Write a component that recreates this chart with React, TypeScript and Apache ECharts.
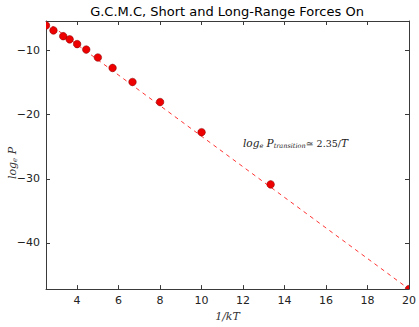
import React, { useEffect, useRef } from "react";
import * as echarts from "echarts";

const invT = [2.5, 2.86, 3.33, 3.64, 4.0, 4.44, 5.0, 5.71, 6.67, 8.0, 10.0, 13.33, 20.0];
const logP = [-6.1, -6.87, -7.77, -8.26, -9.0, -9.85, -11.09, -12.72, -14.91, -18.04, -22.74, -30.88, -47.2];
const fitX = [2.5, 20];
const fitY = [-5.5, -47.2];
const xTicks = [4, 6, 8, 10, 12, 14, 16, 18, 20];
const yTicks = [-40, -30, -20, -10];

export default function App() {
  const ref = useRef<HTMLDivElement>(null);
  useEffect(() => {
    const chart = echarts.init(ref.current!, null, { renderer: "svg" });
    const axisLine = { show: true, lineStyle: { color: "#3a3a3a", width: 1 } };
    const tickStyle = { show: true, inside: true, length: 4, lineStyle: { color: "#3a3a3a" } };
    const font = "DejaVu Sans";
    chart.setOption({
      animation: false,
      backgroundColor: "#fff",
      title: {
        text: "G.C.M.C, Short and Long-Range Forces On",
        left: 227,
        top: 5,
        padding: 0,
        textAlign: "center",
        textStyle: { fontFamily: font, fontSize: 13, fontWeight: "normal", color: "#000" },
      },
      grid: { left: 46, right: 10, top: 21, bottom: 24 },
      xAxis: [
        {
          type: "value", min: 2.5, max: 20, position: "bottom",
          axisLine, axisTick: { ...tickStyle, customValues: xTicks },
          axisLabel: { customValues: xTicks, fontFamily: font, fontSize: 11, color: "#222", margin: 6 },
          splitLine: { show: false },
          name: "1/kT", nameLocation: "middle", nameGap: 19,
          nameTextStyle: { fontFamily: "DejaVu Serif", fontStyle: "italic", fontSize: 11, color: "#333" },
        },
        {
          type: "value", min: 2.5, max: 20, position: "top",
          axisLine, axisTick: { ...tickStyle, customValues: xTicks },
          axisLabel: { show: false }, splitLine: { show: false },
        },
      ],
      yAxis: [
        {
          type: "value", min: -47.2, max: -5.4, position: "left",
          axisLine, axisTick: { ...tickStyle, customValues: yTicks },
          axisLabel: {
            customValues: yTicks, fontFamily: font, fontSize: 11, color: "#222", margin: 6,
            formatter: (v: number) => String(v).replace("-", "\u2212"),
          },
          splitLine: { show: false },
        },
        {
          type: "value", min: -47.2, max: -5.4, position: "right",
          axisLine, axisTick: { ...tickStyle, customValues: yTicks },
          axisLabel: { show: false }, splitLine: { show: false },
        },
      ],
      graphic: [
        {
          type: "text", x: 12, y: 163, rotation: Math.PI / 2,
          style: {
            text: "{i|log}{s|e}{i| P}", align: "center", verticalAlign: "middle",
            rich: {
              i: { fontFamily: "DejaVu Serif", fontStyle: "italic", fontSize: 11, fill: "#333" },
              s: { fontFamily: "DejaVu Serif", fontStyle: "italic", fontSize: 7, fill: "#333", padding: [5, 0, 0, 0] },
            },
          },
        },
        {
          type: "text", x: 243, y: 143,
          style: {
            text: "{i|log}{s|e}{i| P}{s|transition}{n|\u2243 2.35/}{i|T}", verticalAlign: "middle",
            rich: {
              i: { fontFamily: "DejaVu Serif", fontStyle: "italic", fontSize: 10.5, fill: "#222" },
              s: { fontFamily: "DejaVu Serif", fontStyle: "italic", fontSize: 6.5, fill: "#222", padding: [5, 0, 0, 0] },
              n: { fontFamily: "DejaVu Serif", fontSize: 9.5, fill: "#222" },
            },
          },
        },
      ],
      series: [
        {
          type: "line",
          data: fitX.map((x, i) => [x, fitY[i]]),
          symbol: "none",
          lineStyle: { color: "#ff3333", width: 1, type: [4, 4] },
          z: 2,
        },
        {
          type: "custom",
          data: invT.map((x, i) => [x, logP[i]]),
          clip: true,
          renderItem: (params: any, api: any) => {
            const p = api.coord([api.value(0), api.value(1)]);
            return {
              type: "circle",
              shape: { cx: p[0], cy: p[1], r: 3.8 },
              style: { fill: "#ee0000", stroke: "#800000", lineWidth: 0.5 },
            };
          },
          z: 3,
        },
      ],
    });
    return () => chart.dispose();
  }, []);
  return <div ref={ref} style={{ position: "fixed", left: 0, top: 0, width: 419, height: 327 }} />;
}
